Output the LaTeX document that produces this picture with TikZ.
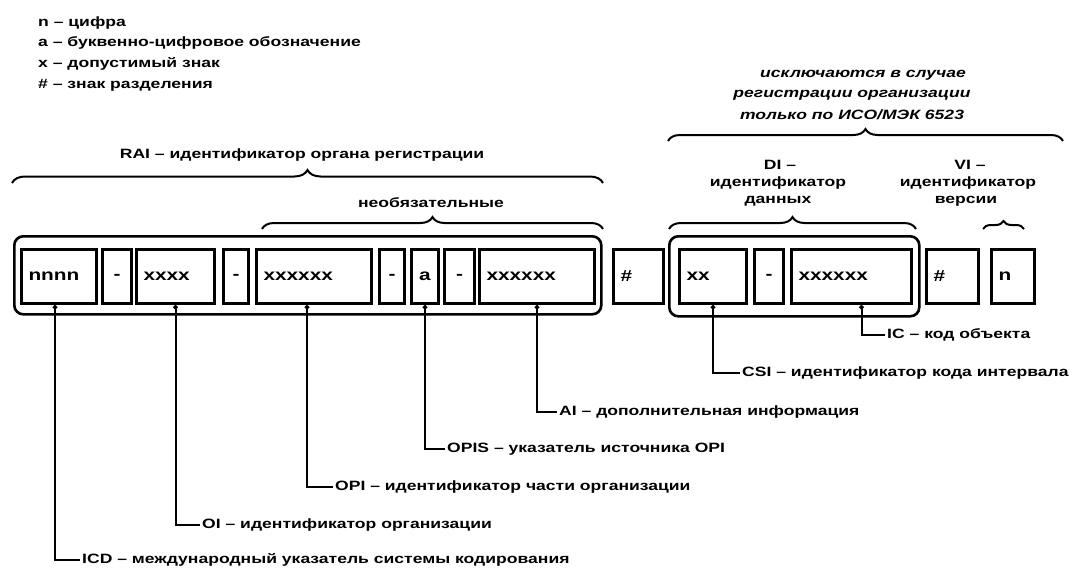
\documentclass[tikz,border=0pt]{standalone}
\usepackage{fontspec}
\setmainfont[FakeStretch=1.3]{Liberation Sans}
\usetikzlibrary{decorations.pathreplacing,arrows.meta,calc}
\begin{document}
\begin{tikzpicture}[x=1pt,y=-1pt,
  font=\bfseries\fontsize{13.5}{15}\selectfont,
  cell/.style={draw, line width=3pt, minimum height=54pt, inner xsep=7pt, inner ysep=0pt, anchor=north west, align=left, font=\bfseries\fontsize{16}{18}\selectfont},
  dcell/.style={cell, align=center},
  outer/.style={draw, line width=2.6pt, rounded corners=9pt, anchor=north west, inner sep=0pt},
  br/.style={draw, line width=2pt, decorate, decoration={brace, amplitude=#1}},
  conn/.style={draw, line width=2pt, {Circle[length=4.5pt]}-},
  lbl/.style={anchor=west, inner sep=2pt},
  txt/.style={inner sep=0pt},
  itxt/.style={inner sep=0pt, font=\bfseries\itshape\fontsize{13.5}{15}\selectfont}]
\useasboundingbox (0,0) rectangle (1077,568);

% legend
\node[txt, anchor=west] (l1) at (38,23) {n -- цифра};
\node[txt, anchor=west] (l2) at (38,43) {a -- буквенно-цифровое обозначение};
\node[txt, anchor=west] (l3) at (38,64) {x -- допустимый знак};
\node[txt, anchor=west] (l4) at (38,85) {\# -- знак разделения};

% italic note
\node[itxt] (t1) at (863,75) {исключаются в случае};
\node[itxt] (t2) at (852,95) {регистрации организации};
\node[itxt] (t3) at (852,115) {только по ИСО/МЭК 6523};
\path[br=12pt] (668,141) -- (1063,141);

% RAI
\node[txt] (rait) at (302,155) {RAI -- идентификатор органа регистрации};
\path[br=13pt] (12,183) -- (603,183);
\node[txt] (neob) at (431,203) {необязательные};
\path[br=12pt] (262,229) -- (603,229);

% DI / VI
\node[txt] (di1) at (780,165) {DI --};
\node[txt] (di2) at (778,183) {идентификатор};
\node[txt] (di3) at (778,201) {данных};
\path[br=12pt] (669,229) -- (916,229);
\node[txt] (vi1) at (970,165) {VI --};
\node[txt] (vi2) at (968,183) {идентификатор};
\node[txt] (vi3) at (966,201) {версии};
\path[br=8pt] (983,229) -- (1024,229);

% outer frames
\node[outer, minimum width=587pt, minimum height=78pt] (rai) at (13,235) {};
\node[outer, minimum width=250pt, minimum height=80pt] (dio) at (668,235) {};

% cells
\node[cell, text width=61pt] (c1) at (20,248) {nnnn};
\node[dcell, text width=15pt] (c2) at (101,248) {-};
\node[cell, text width=64pt] (c3) at (135,248) {xxxx};
\node[dcell, text width=11pt] (c4) at (222,248) {-};
\node[cell, text width=101pt] (c5) at (255,248) {xxxxxx};
\node[dcell, text width=11pt] (c6) at (378,248) {-};
\node[dcell, text width=13pt] (c7) at (410,248) {a};
\node[dcell, text width=16pt] (c8) at (443,248) {-};
\node[cell, text width=101pt] (c9) at (478,248) {xxxxxx};
\node[cell, text width=36pt] (c10) at (612,248) {\#};
\node[cell, text width=53pt] (c11) at (678,248) {xx};
\node[dcell, text width=15pt] (c12) at (753,248) {-};
\node[cell, text width=106pt] (c13) at (790,248) {xxxxxx};
\node[cell, text width=38pt] (c14) at (925,248) {\#};
\node[cell, text width=29pt] (c15) at (990,248) {n};

% labels
\node[lbl] (ic) at (885,335) {IC -- код объекта};
\node[lbl] (csi) at (740,373) {CSI -- идентификатор кода интервала};
\node[lbl] (ai) at (557,412) {AI -- дополнительная информация};
\node[lbl] (opis) at (445,449) {OPIS -- указатель источника OPI};
\node[lbl] (opi) at (333,487) {OPI -- идентификатор части организации};
\node[lbl] (oi) at (200,525) {OI -- идентификатор организации};
\node[lbl] (icd) at (80,560) {ICD -- международный указатель системы кодирования};

% connectors
\draw[conn] ($(c13.south)+(10,0)$) |- (ic.west);
\draw[conn] (c11.south) |- (csi.west);
\draw[conn] (c9.south) |- (ai.west);
\draw[conn] (c7.south) |- (opis.west);
\draw[conn] ($(c5.south)+(-7,0)$) |- (opi.west);
\draw[conn] (c3.south) |- (oi.west);
\draw[conn] ($(c1.south)+(-4,0)$) |- (icd.west);
\end{tikzpicture}
\end{document}
